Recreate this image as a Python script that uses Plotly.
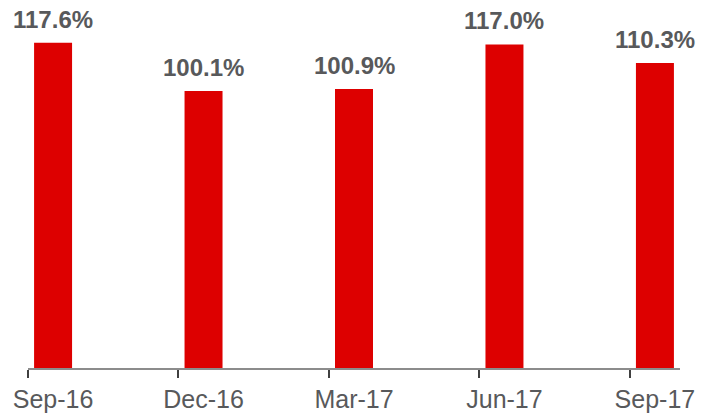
import plotly.graph_objects as go

categories = ["Sep-16", "Dec-16", "Mar-17", "Jun-17", "Sep-17"]
values = [117.6, 100.1, 100.9, 117.0, 110.3]
labels = ["117.6%", "100.1%", "100.9%", "117.0%", "110.3%"]

pos = list(range(len(categories)))
offset = 1 / 6

fig = go.Figure()
fig.add_trace(go.Bar(
    x=pos, y=values, width=0.2525,
    marker=dict(color="#DD0000", line=dict(width=0)),
    hoverinfo="skip",
))
for p, v, t in zip(pos, values, labels):
    fig.add_annotation(
        x=p, y=v, text="<b>%s</b>" % t, showarrow=False,
        yanchor="bottom", yshift=8,
        font=dict(family="Liberation Sans, Arial", size=24, color="#58595B"),
    )

fig.update_layout(
    width=701, height=416,
    margin=dict(l=28, r=21, t=20, b=48, autoexpand=False),
    paper_bgcolor="white", plot_bgcolor="white",
    showlegend=False,
    xaxis=dict(
        range=[-offset, len(categories) - 1 + offset],
        tickvals=pos, ticktext=categories, automargin=False,
        ticks="", showgrid=False, zeroline=False, ticklabelstandoff=8,
        showline=True, linecolor="#8C8C8C", linewidth=1.5,
        tickfont=dict(family="Liberation Sans, Arial", size=25, color="#58595B"),
        minor=dict(tickvals=[p - offset for p in pos], ticks="outside",
                   ticklen=8, tickcolor="#404040", tickwidth=1.5, showgrid=False),
    ),
    yaxis=dict(range=[0, 348 / 2.766], visible=False, automargin=False),
)

fig.write_html("out.html", config={"displayModeBar": False},
               post_script="document.body.style.margin='0';document.body.style.overflow='hidden';")
